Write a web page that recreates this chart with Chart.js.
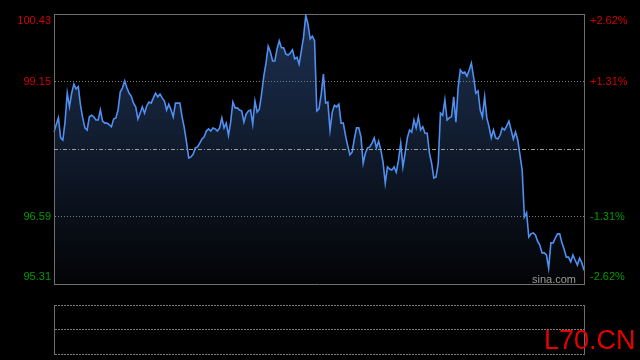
<!DOCTYPE html>
<html>
<head>
<meta charset="utf-8">
<script src="https://cdn.jsdelivr.net/npm/chart.js@4.4.0/dist/chart.umd.min.js"></script>
<style>
  html, body { margin: 0; padding: 0; background: #000; }
  #wrap { position: relative; width: 640px; height: 360px; overflow: hidden; background: #000; }
  #priceChart { position: absolute; left: 0; top: 0; }
  #volChart { position: absolute; left: 0; top: 300px; }
  .brand { position: absolute; left: 532px; top: 274px; font: 11px "Liberation Sans", Arial, sans-serif; line-height: 11px; color: #9a9a9a; }
  .mark { position: absolute; left: 544px; top: 327px; font: 27px "Liberation Sans", Arial, sans-serif; line-height: 27px; color: #e60000; }
</style>
</head>
<body>
<div id="wrap">
  <canvas id="priceChart" width="640" height="300"></canvas>
  <canvas id="volChart" width="640" height="60"></canvas>
  <div class="brand">sina.com</div>
  <div class="mark">L70.CN</div>
</div>
<script>
const prevClose = 97.87;
const priceTicks = [95.31, 96.59, 97.87, 99.15, 100.43];
const priceLabels = ["95.31", "96.59", "", "99.15", "100.43"];
const pctLabels = ["-2.62%", "-1.31%", "", "+1.31%", "+2.62%"];

// one price per minute
const prices = [
  98.19, 98.33, 98.46, 98.08, 98.04, 98.38, 98.93, 98.67, 98.93, 99.10,
  99.01, 99.05, 98.70, 98.46, 98.27, 98.23, 98.48, 98.51, 98.48, 98.42,
  98.42, 98.61, 98.40, 98.36, 98.36, 98.33, 98.29, 98.44, 98.46, 98.61,
  98.95, 99.03, 99.16, 99.03, 98.93, 98.87, 98.74, 98.67, 98.44, 98.55,
  98.67, 98.55, 98.69, 98.76, 98.74, 98.84, 98.93, 98.86, 98.91, 98.84,
  98.78, 98.61, 98.72, 98.61, 98.48, 98.74, 98.74, 98.74, 98.48, 98.27,
  98.00, 97.70, 97.72, 97.77, 97.89, 97.91, 97.98, 98.06, 98.10, 98.21,
  98.25, 98.21, 98.27, 98.25, 98.21, 98.27, 98.46, 98.27, 98.36, 98.13,
  98.38, 98.76, 98.65, 98.65, 98.61, 98.59, 98.38, 98.53, 98.59, 98.61,
  98.34, 98.78, 98.57, 98.63, 98.91, 99.25, 99.50, 99.82, 99.71, 99.54,
  99.54, 99.77, 99.92, 99.79, 99.79, 99.67, 99.65, 99.69, 99.75, 99.58,
  99.61, 99.48, 99.73, 99.99, 100.40, 100.24, 99.96, 100.01, 99.92, 98.59,
  98.63, 98.91, 99.29, 98.74, 98.76, 98.23, 98.57, 98.70, 98.67, 98.72,
  98.36, 98.36, 98.13, 97.93, 97.76, 97.81, 98.06, 98.27, 98.27, 98.10,
  97.60, 97.79, 97.89, 97.91, 97.98, 98.08, 97.89, 98.02, 97.85, 97.62,
  97.22, 97.53, 97.49, 97.47, 97.53, 97.43, 97.66, 97.98, 97.53, 97.79,
  98.08, 98.23, 98.19, 98.42, 98.27, 98.48, 98.23, 98.29, 98.17, 98.17,
  97.79, 97.60, 97.32, 97.34, 97.60, 98.55, 98.51, 98.80, 98.42, 98.46,
  98.48, 98.86, 98.38, 99.03, 99.37, 99.31, 99.33, 99.25, 99.37, 99.50,
  99.24, 98.93, 98.97, 98.61, 98.48, 98.86, 98.46, 98.29, 98.08, 98.23,
  98.08, 98.06, 98.13, 98.27, 98.23, 98.31, 98.40, 98.23, 98.06, 98.19,
  98.04, 97.76, 97.47, 96.58, 96.66, 96.20, 96.26, 96.28, 96.24, 96.12,
  96.05, 95.90, 95.90, 95.86, 95.61, 96.09, 96.09, 96.18, 96.26, 96.26,
  96.09, 95.97, 95.82, 95.82, 95.73, 95.86, 95.76, 95.67, 95.80, 95.71, 95.57
];

// volume panel is empty in the picture
const volumes = [];

// trading minutes 09:30-11:30 and 13:01-15:00
const times = [];
function addTimes(h, m, count) {
  for (let i = 0; i < count; i++) {
    times.push(String(h).padStart(2, "0") + ":" + String(m).padStart(2, "0"));
    m++;
    if (m === 60) { m = 0; h++; }
  }
}
addTimes(9, 30, 121);
addTimes(13, 1, 120);

const FRAME = "#6e6e6e";
const GRID = "#7a7a7a";
const UP = "#d00000";
const DOWN = "#009a00";

Chart.defaults.font.family = '"Liberation Sans", Arial, sans-serif';
Chart.defaults.font.size = 11;

function setTicks(axis) {
  axis.ticks = priceTicks.map(v => ({ value: v }));
}

// top and bottom labels sit inside the frame, so push them in by half a line
function tickText(labels, value) {
  const i = priceTicks.indexOf(value);
  const t = labels[i];
  if (i === priceTicks.length - 1) return ["", t];
  if (i === 0) return [t, ""];
  return t;
}

function tickColor(ctx) {
  if (!ctx.tick) return GRID;
  return ctx.tick.value > prevClose ? UP : DOWN;
}

// fixed sizes so the plot frame lands where it is in the picture
function fixWidth(w) {
  return (a) => { a.width = w; a.paddingTop = 0; a.paddingBottom = 0; };
}
function fixHeight(h) {
  return (a) => { a.height = h; a.paddingLeft = 0; a.paddingRight = 0; };
}

new Chart(document.getElementById("priceChart"), {
  type: "line",
  data: {
    labels: times,
    datasets: [{
      data: prices,
      borderColor: "#4f8ff2",
      borderWidth: 1.6,
      pointRadius: 0,
      tension: 0,
      fill: "start",
      backgroundColor: (ctx) => {
        const area = ctx.chart.chartArea;
        if (!area) return "rgba(0,0,0,0)";
        const g = ctx.chart.ctx.createLinearGradient(0, area.top, 0, area.bottom);
        g.addColorStop(0, "#1d3152");
        g.addColorStop(1, "#030406");
        return g;
      }
    }]
  },
  options: {
    responsive: false,
    animation: false,
    events: [],
    layout: { padding: 0 },
    plugins: { legend: { display: false }, tooltip: { enabled: false } },
    scales: {
      x: {
        ticks: { display: false },
        grid: { display: false, drawTicks: false },
        border: { color: FRAME },
        afterFit: fixHeight(16)
      },
      xTop: {
        type: "category",
        position: "top",
        labels: times,
        ticks: { display: false },
        grid: { display: false, drawTicks: false },
        border: { color: FRAME },
        afterFit: fixHeight(14)
      },
      y: {
        position: "left",
        min: 95.31,
        max: 100.43,
        afterBuildTicks: setTicks,
        ticks: {
          padding: 3,
          color: tickColor,
          callback: (v) => tickText(priceLabels, v)
        },
        grid: {
          z: 1,
          drawTicks: false,
          color: (ctx) => (ctx.tick && (ctx.tick.value === 99.15 || ctx.tick.value === 96.59)) ? GRID : "rgba(0,0,0,0)"
        },
        border: { z: 1, color: FRAME, dash: [1, 2] },
        afterFit: fixWidth(54)
      },
      y2: {
        position: "right",
        min: 95.31,
        max: 100.43,
        afterBuildTicks: setTicks,
        ticks: {
          padding: 6,
          color: tickColor,
          callback: (v) => tickText(pctLabels, v)
        },
        grid: {
          z: 1,
          drawTicks: false,
          color: (ctx) => (ctx.tick && ctx.tick.value === prevClose) ? "#9c9c9c" : "rgba(0,0,0,0)"
        },
        border: { z: 1, color: FRAME, dash: [4, 2, 1, 2] },
        afterFit: fixWidth(56)
      }
    }
  }
});

new Chart(document.getElementById("volChart"), {
  type: "bar",
  data: {
    labels: times,
    datasets: [{ data: volumes, backgroundColor: "#4f8ff2" }]
  },
  options: {
    responsive: false,
    animation: false,
    events: [],
    layout: { padding: { top: 5, bottom: 6 } },
    plugins: { legend: { display: false }, tooltip: { enabled: false } },
    scales: {
      x: { display: false },
      y: {
        position: "left",
        min: 0,
        max: 2,
        afterBuildTicks: (a) => { a.ticks = [0, 1, 2].map(v => ({ value: v })); },
        ticks: { display: false },
        grid: { color: GRID, drawTicks: false },
        border: { color: FRAME, dash: [2, 1] },
        afterFit: fixWidth(54)
      },
      y2: {
        position: "right",
        min: 0,
        max: 2,
        ticks: { display: false },
        grid: { display: false, drawTicks: false },
        border: { color: FRAME },
        afterFit: fixWidth(56)
      }
    }
  }
});
</script>
</body>
</html>
